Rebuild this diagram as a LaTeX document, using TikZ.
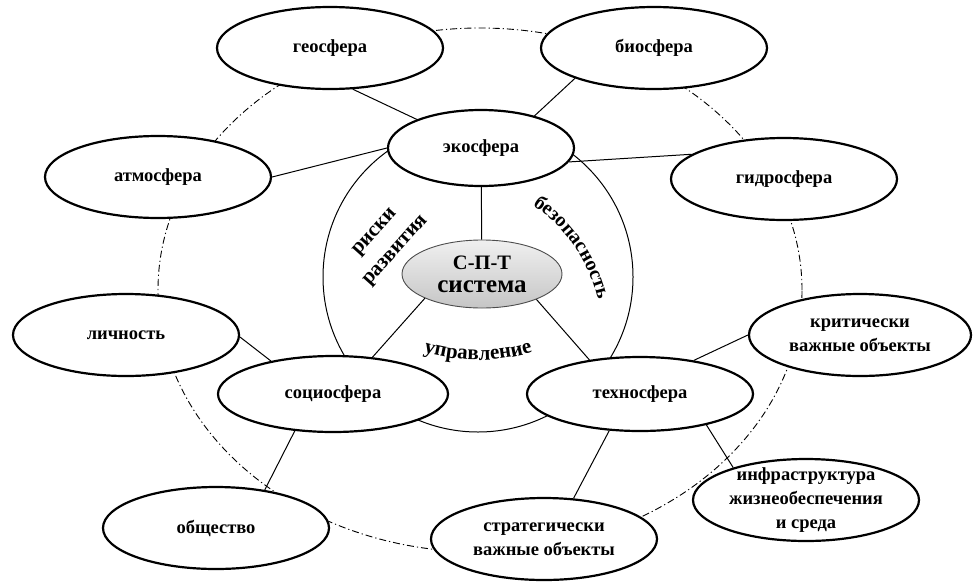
\documentclass[tikz,border=0pt]{standalone}
\usepackage{fontspec}
\setmainfont{Liberation Serif}[BoldFont={Liberation Serif Bold}]
\usetikzlibrary{shapes.geometric,decorations.text}

\begin{document}
\begin{tikzpicture}[
		x=1pt, y=1pt,
		every node/.style={font=\rmfamily\bfseries\fontsize{18.5}{24}\selectfont, align=center},
		sphere/.style={ellipse, draw, line width=2.2pt, fill=white,
			minimum width=226pt, minimum height=82pt, inner sep=0pt},
		link/.style={line width=1pt},
		orbit/.style={line width=0.9pt, dash pattern=on 7pt off 3pt on 1.2pt off 3pt},
		arctext/.style={decorate, decoration={text along path, text align=center, text={#1}}}
		]
		\useasboundingbox (0,0) rectangle (973,-581);
		
		% Внешний (штрихпунктирный) контур и внутренняя окружность
		\coordinate (outer) at (480,-290);
		\coordinate (inner) at (478,-277);
		\draw[orbit] (outer) ellipse [x radius=322, y radius=262];
		\draw[link] (inner) circle [radius=155];
		
		% Сферы верхнего уровня
		\node[sphere] (geo) at (330,-48) {геосфера};
		\node[sphere] (bio) at (654,-48) {биосфера};
		\node[sphere, minimum width=186pt, minimum height=76pt] (eco) at (481,-148) {экосфера};
		\node[sphere] (atmo) at (158,-177) {атмосфера};
		\node[sphere] (hydro) at (784,-179) {гидросфера};
		
		% Центральный узел
		\node[ellipse, draw=gray!60!black, line width=0.9pt, top color=gray!12,
			bottom color=gray!45, minimum width=160pt, minimum height=68pt, inner sep=0pt]
			(core) at (482,-274) {\fontsize{20.5}{22}\selectfont С-П-Т\\[-1pt]\fontsize{25}{26}\selectfont система};
		
		% Социосфера, техносфера и их окружение
		\node[sphere] (person) at (126,-335) {личность};
		\node[sphere, minimum width=230pt, minimum height=76pt] (socio) at (333,-394) {социосфера};
		\node[sphere, minimum height=74pt] (techno) at (640,-394) {техносфера};
		\node[sphere, minimum width=222pt] (crit) at (860,-335) {критически\\важные объекты};
		\node[sphere, inner ysep=-5pt] (infra) at (806,-500) {инфраструктура\\жизнеобеспечения\\и среда};
		\node[sphere] (society) at (216,-528) {общество};
		\node[sphere] (strat) at (544,-539) {стратегически\\важные объекты};
		
		% Надписи внутри окружности
		\node[rotate=48, font=\rmfamily\bfseries\fontsize{21}{28}\selectfont] (risk) at (386,-242) {риски\\развития};
		\path[arctext={|\rmfamily\bfseries\fontsize{20}{20}\selectfont|безопасность}]
			(444,-336) ++(57:158) arc[start angle=57, end angle=12, radius=158];
		\path[arctext={|\rmfamily\bfseries\fontsize{21}{21}\selectfont|управление}]
			(478,-170) ++(250:190) arc[start angle=250, end angle=290, radius=190];
		
		% Связи
		\draw[link] (geo.-61) -- (eco.156);
		\draw[link] (bio.201) -- (eco.31);
		\draw[link] (atmo.east) -- (eco.west);
		\draw[link] (eco.-9) -- (hydro.165);
		\draw[link] (eco) -- (core);
		\draw[link] (core.203) -- (socio.43);
		\draw[link] (core.-25) -- (techno.146);
		\draw[link] (person.-1) -- (socio.152);
		\draw[link] (socio.224) -- (society.38);
		\draw[link] (techno.32) -- (crit.west);
		\draw[link] (techno.-25) -- (infra.156);
		\draw[link] (techno.230) -- (strat.54);
	\end{tikzpicture}
\end{document}
